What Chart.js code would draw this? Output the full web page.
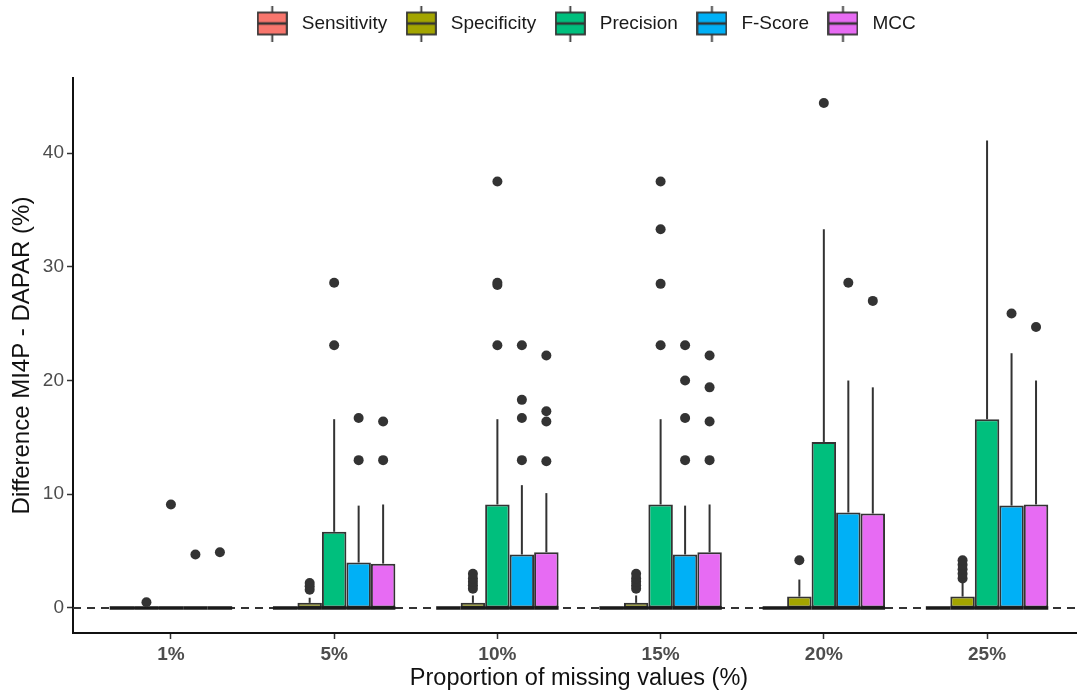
<!DOCTYPE html>
<html>
<head>
<meta charset="utf-8">
<title>Difference MI4P - DAPAR</title>
<script src="https://cdn.jsdelivr.net/npm/chart.js@4.4.1/dist/chart.umd.min.js"></script>
<style>
  html, body { margin: 0; padding: 0; background: #fff; overflow: hidden; }
</style>
</head>
<body>
<canvas id="mychart" width="1090" height="690"></canvas>
<script>
const categories = ['1%', '5%', '10%', '15%', '20%', '25%'];
const metrics = ['Sensitivity', 'Specificity', 'Precision', 'F-Score', 'MCC'];
const colors = ['#F8766D', '#A3A500', '#00BF7D', '#00B0F6', '#E76BF3'];
const yTicks = [0, 10, 20, 30, 40];
const refLine = 0;

// every box starts at 0 and has its median on 0
const lowerQuartile = [0, 0, 0, 0, 0, 0];
const medians = [0, 0, 0, 0, 0, 0];

// top of the boxes (Q3)
const sensQ3 = [0, 0, 0, 0, 0, 0];
const specQ3 = [0, 0.45, 0.45, 0.45, 1.0, 1.0];
const precQ3 = [0, 6.7, 9.1, 9.1, 14.6, 16.6];
const fscoreQ3 = [0, 4.0, 4.7, 4.7, 8.4, 9.0];
const mccQ3 = [0, 3.9, 4.9, 4.9, 8.3, 9.1];

// upper whisker ends
const sensHi = [0, 0, 0, 0, 0, 0];
const specHi = [0, 0.9, 1.1, 1.1, 2.5, 2.2];
const precHi = [0, 16.6, 16.6, 16.6, 33.3, 41.1];
const fscoreHi = [0, 9.0, 10.8, 9.0, 20.0, 22.4];
const mccHi = [0, 9.1, 10.1, 9.1, 19.4, 20.0];

// outliers per category
const sensOut = [[], [], [], [], [], []];
const specOut = [[0.5], [1.6, 1.9, 2.2], [1.7, 2.0, 2.3, 2.6, 3.0], [1.7, 2.0, 2.3, 2.6, 3.0], [4.2], [2.6, 3.0, 3.4, 3.8, 4.2]];
const precOut = [[9.1], [23.1, 28.6], [23.1, 28.4, 28.6, 37.5], [23.1, 28.5, 33.3, 37.5], [44.4], []];
const fscoreOut = [[4.7], [13.0, 16.7], [13.0, 16.7, 18.3, 23.1], [13.0, 16.7, 20.0, 23.1], [28.6], [25.9]];
const mccOut = [[4.9], [13.0, 16.4], [12.9, 16.4, 17.3, 22.2], [13.0, 16.4, 19.4, 22.2], [27.0], [24.7]];

const q3s = [sensQ3, specQ3, precQ3, fscoreQ3, mccQ3];
const his = [sensHi, specHi, precHi, fscoreHi, mccHi];
const outs = [sensOut, specOut, precOut, fscoreOut, mccOut];

const groupWidth = 0.75;   // share of a category taken by the 5 boxes
const ink = '#333333';

Chart.defaults.font.family = '"Liberation Sans", Arial, sans-serif';
Chart.defaults.color = '#4d4d4d';

// small boxplot glyph for the legend keys
function makeKey(color) {
  const c = document.createElement('canvas');
  c.width = 31;
  c.height = 36;
  const g = c.getContext('2d');
  g.strokeStyle = ink;
  g.lineWidth = 1.8;
  g.beginPath();
  g.moveTo(15.5, 0);
  g.lineTo(15.5, 36);
  g.stroke();
  g.fillStyle = color;
  g.fillRect(1, 7, 29, 22);
  g.strokeRect(1, 7, 29, 22);
  g.lineWidth = 2.5;
  g.beginPath();
  g.moveTo(1, 18);
  g.lineTo(30, 18);
  g.stroke();
  return c;
}
const keys = colors.map(makeKey);

const boxSets = metrics.map((m, k) => ({
  type: 'bar',
  label: m,
  data: categories.map((c, i) => ({x: i, y: [lowerQuartile[i], q3s[k][i]]})),
  backgroundColor: colors[k],
  borderColor: ink,
  borderWidth: 2,
  borderSkipped: false,
  categoryPercentage: groupWidth,
  barPercentage: 1,
  whiskers: his[k],
  medians: medians,
  q3: q3s[k],
  order: 1
}));

const outlierSets = metrics.map((m, k) => {
  const pts = [];
  const shift = (k - (metrics.length - 1) / 2) * groupWidth / metrics.length;
  outs[k].forEach((vals, i) => vals.forEach(v => pts.push({x: i + shift, y: v})));
  return {
    type: 'scatter',
    label: m + ' outliers',
    data: pts,
    pointRadius: 5,
    pointBackgroundColor: ink,
    pointBorderWidth: 0,
    order: 0
  };
});

// whiskers, medians and the dashed zero line
const boxExtras = {
  id: 'boxExtras',
  beforeInit(chart) {
    const fit = chart.legend.fit;
    chart.legend.fit = function () {
      fit.bind(chart.legend)();
      this.height = 78;
    };
  },
  afterLayout(chart) {
    // ggplot centres the legend a little to the right
    chart.legend.left += 5;
    chart.legend.right += 5;
  },
  beforeDatasetsDraw(chart) {
    const {ctx, chartArea, scales: {y}} = chart;
    const py = y.getPixelForValue(refLine);
    ctx.save();
    ctx.setLineDash([8, 6]);
    ctx.strokeStyle = ink;
    ctx.lineWidth = 2;
    ctx.beginPath();
    ctx.moveTo(chartArea.left, py);
    ctx.lineTo(chartArea.right, py);
    ctx.stroke();
    ctx.restore();
  },
  afterDatasetDraw(chart, args) {
    const ds = chart.data.datasets[args.index];
    if (!ds.whiskers) return;
    const {ctx, scales: {y}} = chart;
    ctx.save();
    args.meta.data.forEach((bar, i) => {
      ctx.strokeStyle = ink;
      ctx.lineWidth = 2;
      ctx.beginPath();
      ctx.moveTo(bar.x, y.getPixelForValue(ds.q3[i]));
      ctx.lineTo(bar.x, y.getPixelForValue(ds.whiskers[i]));
      ctx.stroke();
      const pm = y.getPixelForValue(ds.medians[i]);
      ctx.strokeStyle = '#1a1a1a';
      ctx.lineWidth = 3.5;
      ctx.beginPath();
      ctx.moveTo(bar.x - bar.width / 2, pm);
      ctx.lineTo(bar.x + bar.width / 2, pm);
      ctx.stroke();
    });
    ctx.restore();
  }
};

const ctx1 = document.getElementById('mychart');
const chart1 = new Chart(ctx1, {
  type: 'bar',
  data: {
    datasets: boxSets.concat(outlierSets)
  },
  options: {
    responsive: false,
    animation: false,
    devicePixelRatio: 1,
    layout: { padding: 0 },
    plugins: {
      tooltip: { enabled: false },
      legend: {
        position: 'top',
        fullSize: false,
        labels: {
          usePointStyle: true,
          pointStyleWidth: 40,
          padding: 14,
          color: '#1a1a1a',
          font: { size: 19 },
          generateLabels: (chart) => {
            const items = Chart.defaults.plugins.legend.labels.generateLabels(chart);
            return items
              .filter(it => it.datasetIndex < metrics.length)
              .map(it => Object.assign(it, { pointStyle: keys[it.datasetIndex] }));
          }
        },
        onClick: () => {}
      }
    },
    scales: {
      x: {
        type: 'linear',
        min: -0.6,
        max: categories.length - 0.4,
        offset: false,
        grid: { drawOnChartArea: false, offset: false, tickLength: 6, tickColor: ink, tickWidth: 1.5 },
        border: { display: true, color: '#111', width: 2 },
        afterBuildTicks: (scale) => {
          scale.ticks = categories.map((c, i) => ({ value: i }));
        },
        afterFit: (scale) => { scale.height = 57; },
        ticks: {
          padding: 4,
          maxRotation: 0,
          autoSkip: false,
          color: '#4d4d4d',
          font: { size: 19, weight: 'bold' },
          callback: (v) => categories[v]
        },
        title: {
          display: true,
          text: 'Proportion of missing values (%)',
          color: '#111',
          font: { size: 23.5, lineHeight: 1 },
          padding: { top: 0, bottom: 0 }
        }
      },
      y: {
        min: -2.2,
        max: 46.6,
        grid: { drawOnChartArea: false, tickLength: 6, tickColor: ink, tickWidth: 1.5 },
        border: { display: true, color: '#111', width: 2 },
        afterBuildTicks: (scale) => {
          scale.ticks = yTicks.map(v => ({ value: v }));
        },
        afterFit: (scale) => { scale.width = 73; },
        ticks: {
          padding: 3,
          color: '#4d4d4d',
          font: { size: 19 }
        },
        title: {
          display: true,
          text: 'Difference MI4P - DAPAR (%)',
          color: '#111',
          font: { size: 24, lineHeight: 1.2 },
          padding: { top: 8, bottom: 0 }
        }
      }
    }
  },
  plugins: [boxExtras]
});
</script>
</body>
</html>
